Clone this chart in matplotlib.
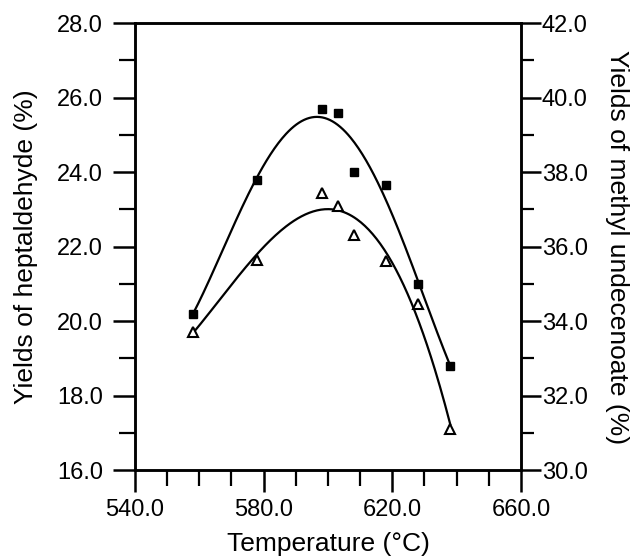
import numpy as np
import matplotlib
matplotlib.use("Agg")
import matplotlib.pyplot as plt
from matplotlib.ticker import MultipleLocator, FixedLocator, FormatStrFormatter

plt.rcParams['font.family'] = ['Liberation Sans', 'DejaVu Sans']

# temperatures (°C) of the runs
temp = [558, 578, 598, 603, 608, 618, 628, 638]
# yields of heptaldehyde (%), filled squares, left axis
hept = [20.2, 23.8, 25.7, 25.6, 24.0, 23.65, 21.0, 18.8]
# yields of methyl undecenoate (%), open triangles, right axis
undec = [33.7, 35.65, 37.45, 37.1, 36.3, 35.6, 34.45, 31.1]

fig = plt.figure(figsize=(6.38, 5.6), dpi=100)
ax = fig.add_axes([0.2116, 0.1607, 0.605, 0.798])
ax2 = ax.twinx()

# smooth fitted curves
tt = np.linspace(min(temp), max(temp), 200)
c1 = np.polyfit(temp, hept, 4)
c2 = np.polyfit(temp, undec, 4)
ax.plot(tt, np.polyval(c1, tt), color='black', lw=1.6)
ax.plot(temp, hept, 's', color='black', ms=5.2)
ax2.plot(tt, np.polyval(c2, tt), color='black', lw=1.6)
ax2.plot(temp, undec, '^', mfc='white', mec='black', mew=1.5, ms=7)

ax.set_xlim(540, 660)
ax.set_ylim(16, 28)
ax2.set_ylim(30, 42)

ax.xaxis.set_major_locator(FixedLocator([540, 580, 620, 660]))
ax.xaxis.set_minor_locator(MultipleLocator(10))
ax.xaxis.set_major_formatter(FormatStrFormatter('%.1f'))
ax.yaxis.set_major_locator(MultipleLocator(2))
ax.yaxis.set_minor_locator(MultipleLocator(1))
ax.yaxis.set_major_formatter(FormatStrFormatter('%.1f'))
ax2.yaxis.set_major_locator(MultipleLocator(2))
ax2.yaxis.set_minor_locator(MultipleLocator(1))
ax2.yaxis.set_major_formatter(FormatStrFormatter('%.1f'))

for a in (ax, ax2):
    for s in a.spines.values():
        s.set_linewidth(1.8)
ax.tick_params(which='major', direction='out', length=16, width=1.8, labelsize=17)
ax.tick_params(axis='y', which='major', pad=7)
ax.tick_params(axis='x', which='major', pad=5)
ax.tick_params(which='minor', direction='out', length=11.5, width=1.6)
ax2.tick_params(which='major', direction='out', length=14.5, width=1.8, labelsize=17, pad=0.5)
ax2.tick_params(which='minor', direction='out', length=9.5, width=1.6)

ax.set_xlabel('Temperature (°C)', fontsize=19, labelpad=8)
ax.set_ylabel('Yields of heptaldehyde (%)', fontsize=19, labelpad=14)
ax2.set_ylabel('Yields of methyl undecenoate (%)', fontsize=19, rotation=-90, labelpad=30)

fig.savefig('out.png', dpi=100)
